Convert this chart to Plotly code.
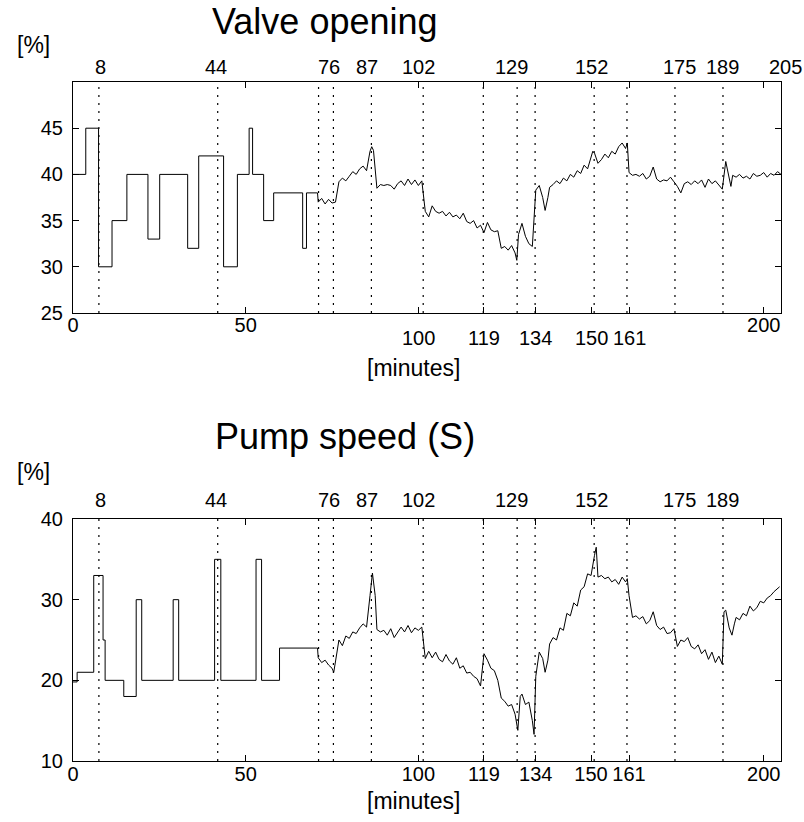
import plotly.graph_objects as go

# ---------------- data ----------------
# Valve opening: step part (hv) then measured noisy part
valve_step_t = [0, 3.7, 7.4, 11.3, 15.6, 21.7, 25.1, 33.2, 36.4, 43.6, 47.6, 51.0, 52.0, 55.2, 58.1, 66.5, 67.6, 70.8]
valve_step_v = [40, 45, 30, 35, 40, 33, 40, 32, 42, 30, 40, 45, 40, 35, 38, 32, 38, 38]

valve_t = [70.8, 71, 72, 73, 74, 75, 76, 77, 78, 79, 80, 81, 82, 83, 84, 85, 86, 86.5, 87, 88, 89, 90,
           91, 92, 93, 94, 95, 96, 97, 98, 99, 100, 101, 102, 103, 104, 105, 106, 107, 108, 109, 110,
           111, 112, 113, 114, 115, 116, 117, 118, 119, 120, 121, 122, 123, 124, 125, 126, 127, 128,
           128.5, 129, 130, 131, 132, 133, 134, 135, 136, 136.7, 137.5, 138, 139, 140, 141, 142, 143,
           144, 145, 146, 147, 148, 149, 150, 150.5, 151, 152, 153, 154, 155, 156, 157, 158, 159, 160,
           160.5, 161, 162, 163, 164, 165, 166, 167, 168, 169, 170, 171, 172, 173, 174, 175, 176, 177,
           178, 179, 180, 181, 182, 183, 184, 185, 186, 187, 188, 189, 190, 190.5, 191, 192, 193, 194,
           195, 196, 197, 198, 199, 200, 201, 202, 203, 204, 205]
valve_v = [38, 37.0, 37.4, 36.8, 37.3, 36.9, 37.0, 39.2, 39.6, 39.3, 39.8, 40.3, 40.0, 40.6, 40.9, 40.4,
           42.5, 43.0, 42.6, 38.5, 38.9, 38.8, 38.9, 38.8, 38.4, 39.0, 39.3, 38.8, 39.5, 38.9, 39.4, 38.8,
           39.3, 36.0, 35.4, 36.6, 36.0, 35.8, 36.0, 35.5, 35.9, 35.4, 35.6, 35.2, 35.8, 34.9, 34.7, 35.0,
           34.2, 34.5, 33.7, 34.8, 34.0, 33.8, 33.9, 32.0, 32.2, 31.8, 32.3, 31.5, 30.7, 33.5, 34.7, 33.3,
           32.5, 32.2, 38.3, 38.8, 37.5, 36.1, 37.5, 38.6, 38.9, 39.3, 39.0, 39.6, 39.3, 40.0, 39.7, 40.4,
           40.1, 41.0, 40.6, 41.7, 42.5, 42.3, 41.2, 41.6, 42.2, 41.8, 42.5, 42.2, 43.0, 43.4, 42.8, 43.4,
           40.2, 39.9, 40.0, 39.8, 40.1, 39.5, 39.8, 40.8, 39.5, 39.2, 39.4, 39.3, 39.7, 39.2, 38.7, 38.0,
           39.0, 39.2, 38.9, 39.3, 39.0, 39.4, 38.6, 39.5, 39.0, 39.3, 38.8, 38.4, 41.4, 39.5, 38.7, 39.9,
           39.7, 40.0, 39.6, 39.8, 39.5, 40.1, 39.8, 39.9, 40.2, 39.7, 40.1, 39.9, 40.3, 40.0]

# Pump speed: step part (hv) then measured noisy part
pump_step_t = [0, 1.2, 6.0, 8.7, 9.3, 14.7, 18.3, 19.9, 29.0, 30.6, 41.0, 42.8, 53.0, 54.6, 59.8, 70.8]
pump_step_v = [19.8, 21, 33, 25, 20, 18, 30, 20, 30, 20, 35, 20, 35, 20, 24, 24]

pump_t = [70.8, 71, 72, 73, 74, 75, 75.5, 76, 77, 78, 79, 80, 81, 82, 83, 84, 85, 86, 86.7, 87.5, 88, 89,
          90, 91, 92, 93, 94, 95, 96, 97, 98, 99, 100, 101, 102, 103, 104, 105, 106, 107, 108, 109, 110,
          111, 112, 113, 114, 115, 116, 117, 118, 119, 120, 121, 122, 123, 124, 125, 126, 127, 128,
          128.8, 129.5, 130, 131, 132, 133, 133.5, 134, 135, 136, 136.7, 137.5, 138, 139, 140, 141, 142,
          143, 144, 145, 146, 147, 148, 149, 150, 151, 151.5, 152, 153, 154, 155, 156, 157, 158, 159, 160,
          160.5, 161, 162, 163, 164, 165, 166, 167, 168, 169, 170, 171, 172, 173, 174, 175, 176, 177, 178,
          179, 180, 181, 182, 183, 184, 185, 186, 187, 188, 188.5, 189, 190, 190.8, 191.5, 192, 193, 194,
          195, 196, 197, 198, 199, 200, 201, 202, 203, 204, 204.6]
pump_v = [24, 22.8, 22.2, 22.5, 21.9, 21.5, 21.0, 22.5, 25.0, 24.3, 25.5, 25.2, 26.0, 25.8, 26.5, 27.0,
          26.6, 30.5, 33.3, 30.5, 26.3, 26.0, 26.2, 25.6, 26.4, 25.3, 26.0, 26.6, 26.0, 26.8, 25.9, 26.5,
          26.2, 26.6, 22.7, 23.6, 22.8, 23.5, 22.6, 22.3, 23.2, 22.4, 22.0, 22.8, 21.5, 21.8, 20.9, 21.0,
          20.5, 20.2, 19.3, 23.3, 22.5, 21.5, 21.2, 20.0, 17.8, 17.4, 16.8, 17.0, 15.8, 13.8, 18.0, 18.3,
          17.0, 17.3, 15.0, 13.3, 20.5, 23.5, 22.7, 21.0, 22.5, 24.5, 25.3, 25.0, 26.5, 26.2, 28.3, 28.0,
          29.6, 29.2, 31.2, 31.6, 33.2, 33.0, 35.5, 36.5, 32.8, 33.0, 32.6, 32.8, 32.2, 32.5, 31.9, 32.8,
          32.2, 32.6, 30.5, 27.8, 28.0, 27.6, 27.9, 27.0, 27.4, 28.5, 26.8, 26.3, 26.6, 25.8, 25.9, 26.4,
          24.2, 25.0, 24.8, 25.3, 24.2, 23.9, 24.4, 23.3, 23.8, 22.6, 23.5, 22.2, 23.0, 22.0, 28.5, 28.7,
          26.5, 25.6, 27.0, 27.8, 27.5, 28.3, 28.0, 29.2, 28.6, 29.0, 29.8, 29.6, 30.2, 30.5, 31.0, 31.4,
          31.6]

# event markers (dotted lines) and their labels
event_lines = [7.5, 41.9, 71.1, 75.4, 86.4, 101.4, 118.8, 128.6, 133.8, 150.9, 160.4, 174.3, 188.2]
top_labels = ["8", "44", "76", "87", "102", "129", "152", "175", "189", "205"]
top_label_pos = [7.9, 41.5, 74.0, 85.0, 100.0, 127.0, 150.0, 175.5, 188.2, 206.4]

x_tickvals = [0, 50, 100, 119, 134, 150, 161, 200]
x_ticktext = ["0", "50", "100", "119", "134", "150", "161", "200"]
# in the upper panel these labels sit one row lower than 0 / 50 / 200
lowered_ticks = [100, 119, 134, 150, 161]
valve_yticks = [25, 30, 35, 40, 45]
pump_yticks = [10, 20, 30, 40]

# ---------------- figure ----------------
W, H = 804, 822
FONT = "Liberation Sans, Arial, sans-serif"
line_style = dict(color="black", width=1)
X0, X1 = 73, 781       # plot frame, pixels
XMAX = 205.0

fig = go.Figure()
fig.add_trace(go.Scatter(x=valve_step_t, y=valve_step_v, mode="lines", line=dict(shape="hv", **line_style),
                         xaxis="x", yaxis="y", showlegend=False, hoverinfo="skip"))
fig.add_trace(go.Scatter(x=valve_t, y=valve_v, mode="lines", line=line_style,
                         xaxis="x", yaxis="y", showlegend=False, hoverinfo="skip"))
fig.add_trace(go.Scatter(x=pump_step_t, y=pump_step_v, mode="lines", line=dict(shape="hv", **line_style),
                         xaxis="x2", yaxis="y2", showlegend=False, hoverinfo="skip"))
fig.add_trace(go.Scatter(x=pump_t, y=pump_v, mode="lines", line=line_style,
                         xaxis="x2", yaxis="y2", showlegend=False, hoverinfo="skip"))


def px_x(p):
    return p / W


def px_y(p):
    return 1 - p / H


def data_to_paper_x(v):
    return px_x(X0 + (X1 - X0) * v / XMAX)


axis_common = dict(showline=True, linecolor="black", linewidth=1, mirror="allticks", ticks="inside",
                   ticklen=6, tickcolor="black", showgrid=False, zeroline=False, automargin=False,
                   tickfont=dict(family=FONT, size=20, color="black"))

top_ticktext = ["" if v in lowered_ticks else t for v, t in zip(x_tickvals, x_ticktext)]

fig.update_layout(
    template="none",
    width=W, height=H, margin=dict(l=0, r=0, t=0, b=0, pad=0),
    paper_bgcolor="white", plot_bgcolor="white",
    xaxis=dict(domain=[px_x(X0), px_x(X1)], range=[0, XMAX], anchor="y",
               tickvals=x_tickvals, ticktext=top_ticktext, ticklabelstandoff=-6, **axis_common),
    yaxis=dict(domain=[px_y(313), px_y(82)], range=[25, 50], anchor="x",
               tickvals=valve_yticks, ticklabelstandoff=5, **axis_common),
    xaxis2=dict(domain=[px_x(X0), px_x(X1)], range=[0, XMAX], anchor="y2",
                tickvals=x_tickvals, ticktext=x_ticktext, ticklabelstandoff=-5, **axis_common),
    yaxis2=dict(domain=[px_y(761), px_y(519)], range=[10, 40], anchor="x2",
                tickvals=pump_yticks, ticklabelstandoff=5, **axis_common),
)

shapes = []
for xr, yr in (("x", "y"), ("x2", "y2")):
    for e in event_lines:
        shapes.append(dict(type="line", xref=xr, yref=yr + " domain", x0=e, x1=e, y0=0, y1=1,
                           line=dict(color="black", width=1.2, dash="2px,6px")))
fig.update_layout(shapes=shapes)

ann = []
txt = dict(family=FONT, color="black")
for ypix, labels in ((67, top_labels), (500, top_labels[:-1])):
    for lab, pos in zip(labels, top_label_pos):
        ann.append(dict(text=lab, x=data_to_paper_x(pos), xref="paper", y=px_y(ypix), yref="paper",
                        showarrow=False, xanchor="center", yanchor="middle", font=dict(size=20, **txt)))
for v, t in zip(x_tickvals, x_ticktext):
    if v in lowered_ticks:
        ann.append(dict(text=t, x=data_to_paper_x(v), xref="paper", y=px_y(338), yref="paper",
                        showarrow=False, xanchor="center", yanchor="middle", font=dict(size=20, **txt)))
ann += [
    dict(text="Valve opening", x=px_x(325), y=px_y(22), xref="paper", yref="paper", showarrow=False,
         xanchor="center", yanchor="middle", font=dict(size=36, **txt)),
    dict(text="Pump speed (S)", x=px_x(345), y=px_y(436), xref="paper", yref="paper", showarrow=False,
         xanchor="center", yanchor="middle", font=dict(size=36, **txt)),
    dict(text="[%]", x=px_x(33), y=px_y(45), xref="paper", yref="paper", showarrow=False,
         xanchor="center", yanchor="middle", font=dict(size=23, **txt)),
    dict(text="[%]", x=px_x(33), y=px_y(472), xref="paper", yref="paper", showarrow=False,
         xanchor="center", yanchor="middle", font=dict(size=23, **txt)),
    dict(text="[minutes]", x=px_x(413), y=px_y(368), xref="paper", yref="paper", showarrow=False,
         xanchor="center", yanchor="middle", font=dict(size=23, **txt)),
    dict(text="[minutes]", x=px_x(413), y=px_y(801), xref="paper", yref="paper", showarrow=False,
         xanchor="center", yanchor="middle", font=dict(size=23, **txt)),
]
fig.update_layout(annotations=ann)

fig.write_html("out.html")
